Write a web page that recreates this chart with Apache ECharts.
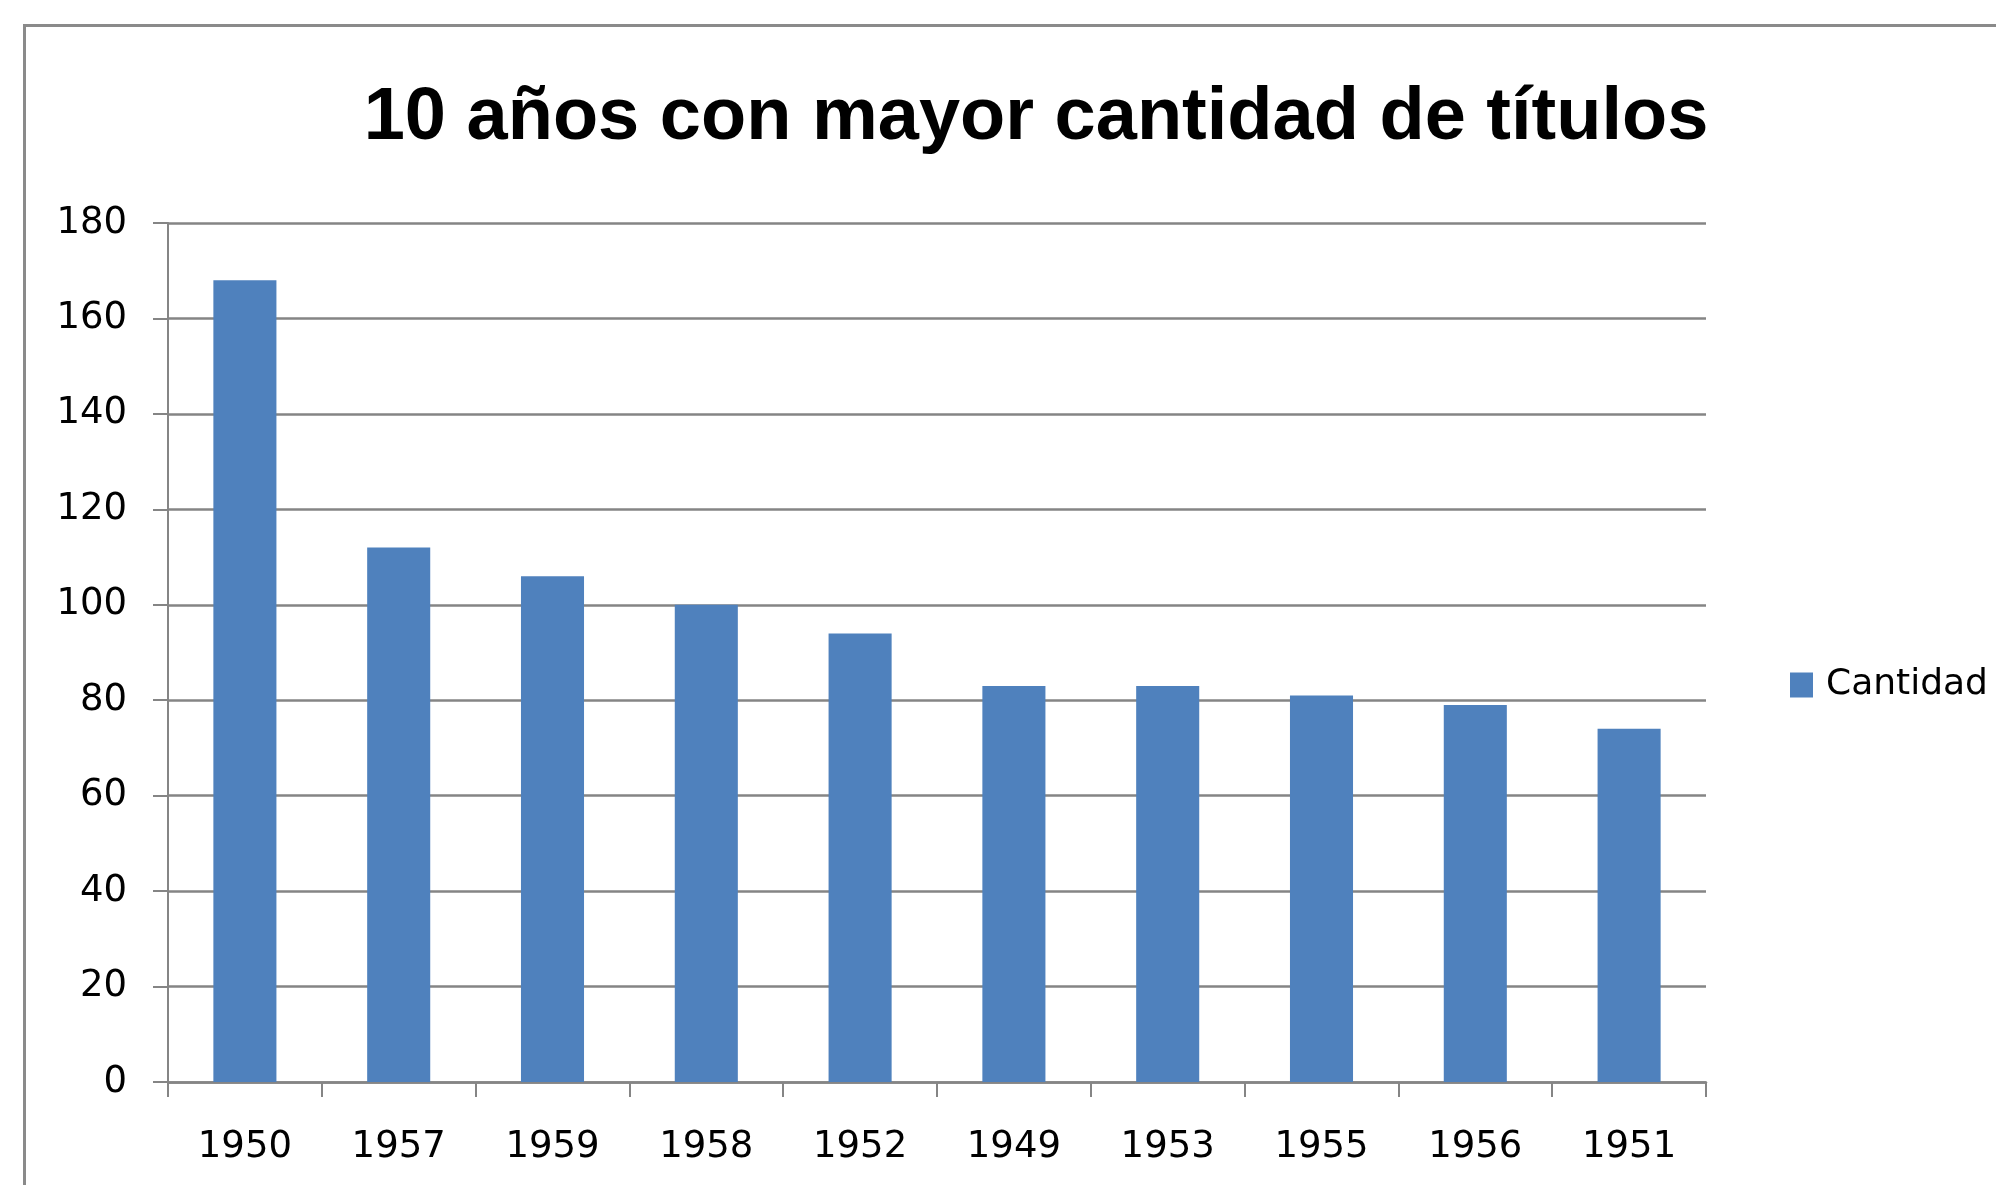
<!DOCTYPE html>
<html>
<head>
<meta charset="utf-8">
<script src="https://cdn.jsdelivr.net/npm/echarts@6/dist/echarts.min.js"></script>
<style>
  html, body { margin: 0; padding: 0; background: #fff; }
  #chart { width: 1996px; height: 1185px; }
</style>
</head>
<body>
<div id="chart"></div>
<script>
const titleText = '10 años con mayor cantidad de títulos';
const seriesName = 'Cantidad';
const years = ['1950', '1957', '1959', '1958', '1952', '1949', '1953', '1955', '1956', '1951'];
const cantidad = [168, 112, 106, 100, 94, 83, 83, 81, 79, 74];
const yMin = 0, yMax = 180, yStep = 20;

const chart = echarts.init(document.getElementById('chart'), null, { renderer: 'canvas' });
const gridColor = '#858585';
chart.setOption({
  animation: false,
  backgroundColor: '#ffffff',
  graphic: [{
    type: 'rect',
    left: 22, top: 23,
    shape: { width: 2100, height: 1300 },
    style: { fill: 'none', stroke: '#8a8a8a', lineWidth: 3 },
    silent: true
  }],
  title: {
    text: titleText,
    left: 1031, top: 77,
    textAlign: 'center',
    textStyle: { fontFamily: 'Liberation Sans', fontWeight: 'bold', fontSize: 74, color: '#000' }
  },
  legend: {
    data: [seriesName],
    orient: 'vertical',
    left: 1785, top: 662,
    itemWidth: 23, itemHeight: 25,
    icon: 'rect',
    textStyle: { fontFamily: 'DejaVu Sans', fontSize: 36, color: '#000', padding: [0, 0, 0, 8] }
  },
  grid: { left: 168, right: 290, top: 223, bottom: 103, containLabel: false },
  xAxis: {
    type: 'category',
    data: years,
    boundaryGap: true,
    axisLine: { show: true, lineStyle: { color: gridColor, width: 2.5 } },
    axisTick: { show: true, alignWithLabel: false, length: 15, lineStyle: { color: gridColor, width: 2 } },
    axisLabel: { fontFamily: 'DejaVu Sans', fontSize: 37, color: '#000', margin: 47 },
    splitLine: { show: false }
  },
  yAxis: {
    type: 'value',
    min: yMin, max: yMax, interval: yStep,
    axisLine: { show: true, lineStyle: { color: gridColor, width: 2 } },
    axisTick: { show: true, length: 15, lineStyle: { color: gridColor, width: 2 } },
    axisLabel: { fontFamily: 'DejaVu Sans', fontSize: 37, color: '#000', margin: 41 },
    splitLine: { show: true, lineStyle: { color: gridColor, width: 2.5 } }
  },
  series: [{
    name: seriesName,
    type: 'bar',
    data: cantidad,
    barWidth: '41%',
    itemStyle: { color: '#4f81bd' }
  }]
});
</script>
</body>
</html>
